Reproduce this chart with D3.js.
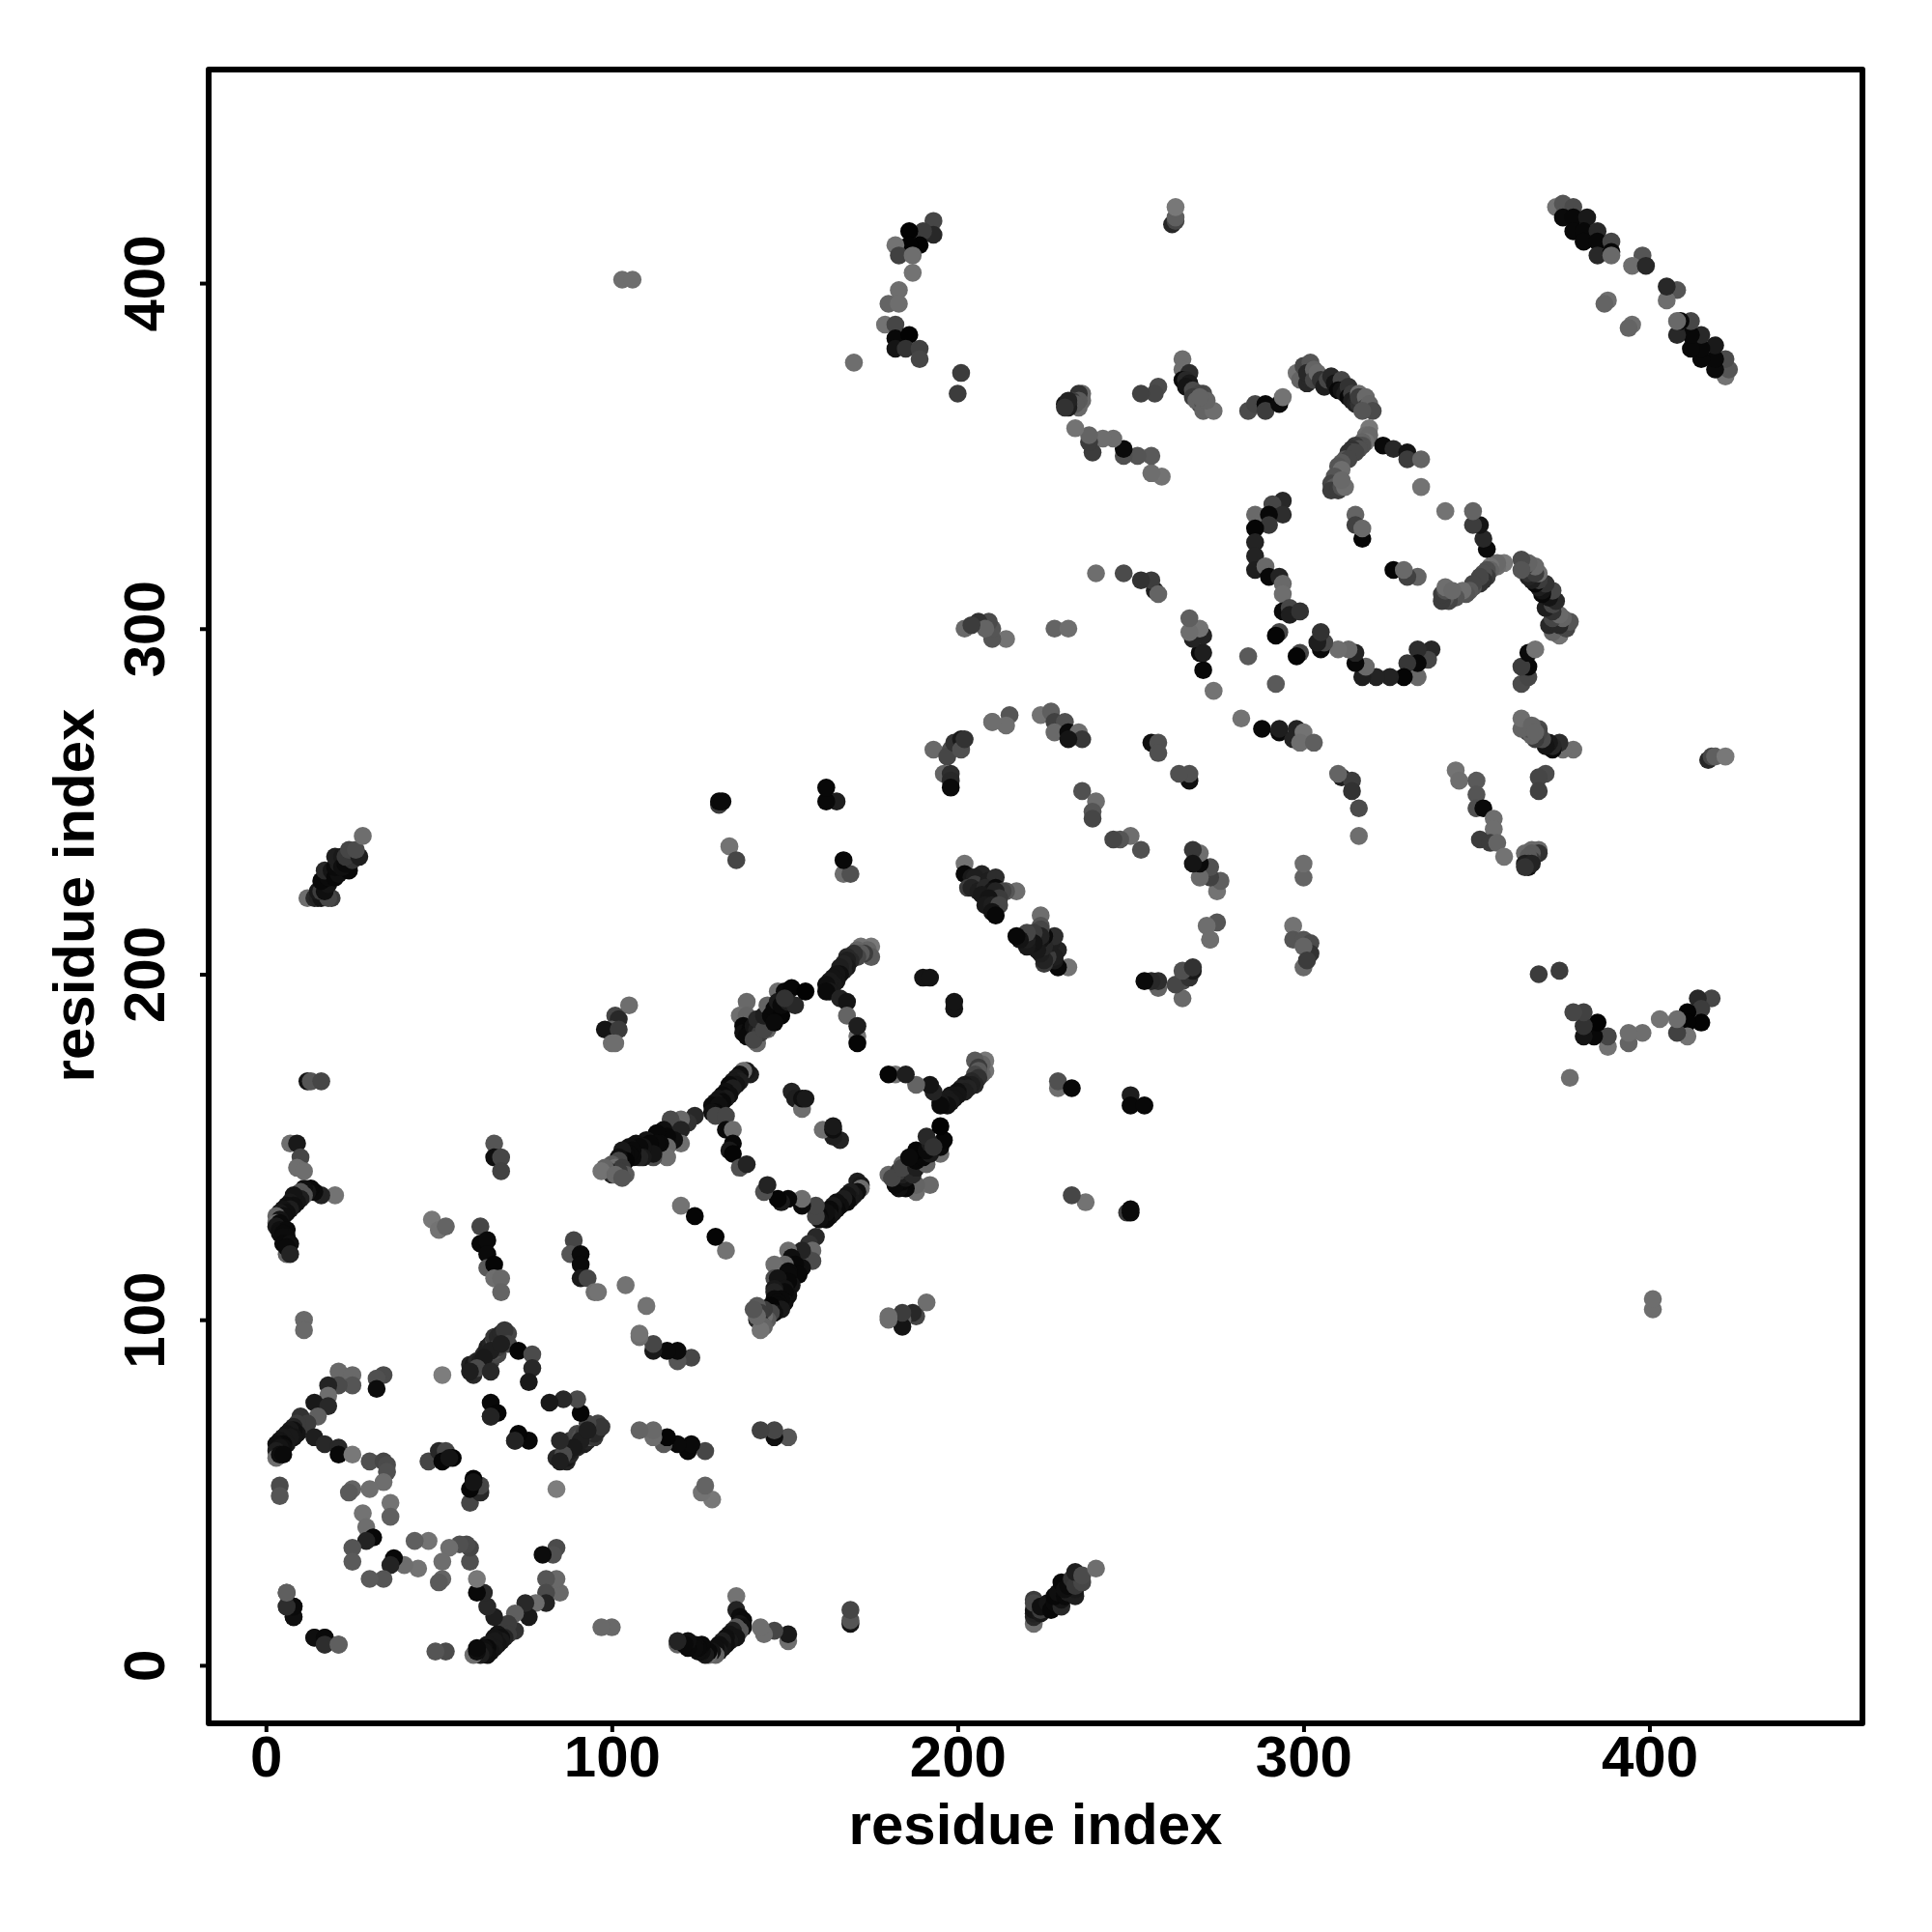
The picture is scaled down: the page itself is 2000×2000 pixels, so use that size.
<!DOCTYPE html>
<html><head><meta charset="utf-8"><style>html,body{margin:0;background:#fff}svg{display:block}</style>
<script src="https://cdn.jsdelivr.net/npm/d3@7"></script></head><body>
<svg id="c" width="2000" height="2000"></svg>
<script>
// Contacts as [residue i, residue j, grey level]. The map is symmetric: each is drawn at (i,j) and (j,i).
const arcA=[[20,136,115],[16,136,35],[14,137,12],[13,138,10],[12,137,20],[11,138,15],[11,136,85],[10,137,85],[9,136,85],[8,135,85],[10,135,30],[9,134,20],[8,136,20],[7,134,25],[8,133,15],[6,133,15],[7,132,30],[5,132,20],[6,131,15],[4,131,25],[5,130,15],[3,130,100],[4,129,20],[3,128,110],[4,128,10],[3,127,25],[4,126,15],[6,126,10],[4,125,15],[5,125,10],[6,124,12],[5,124,12],[5,122,10],[7,122,15],[6,119,100],[6,121,10],[7,119,35]];
const arcB=[[7,151,110],[9,151,25],[10,147,70],[9,144,110],[11,143,110],[12,169,20],[13,169,85],[16,169,70],[66,151,85],[66,147,15],[68,147,70],[68,143,65]];
const strandC=[[48,129,120],[50,126,115],[52,127,100],[62,127,70],[62,122,8],[64,123,10],[64,119,10],[64,115,90],[66,116,5],[66,112,110],[68,112,105],[68,108,100],[89,123,70],[88,119,85],[91,119,10],[91,116,10],[91,112,25],[93,112,70],[95,108,110],[96,108,115],[104,110,115],[11,100,105],[11,97,105]];
const helixA=[[21,85,105],[25,84,105],[25,81,85],[21,81,75],[18,81,35],[18,78,110],[34,84,75],[32,83,80],[32,80,12],[14,76,25],[18,75,40],[10,72,50],[15,72,95],[10,68,70],[12,70,60],[9,70,60],[8,69,35],[14,66,30],[9,67,20],[8,68,15],[7,68,25],[8,66,20],[6,67,20],[7,66,25],[5,66,25],[17,64,40],[21,63,40],[21,61,8],[25,61,120],[6,64,25],[4,65,20],[5,64,10],[3,64,15],[5,63,15],[4,63,20],[3,62,30],[3,60,110],[4,61,15],[5,61,10]];
const helixB=[[30,59,80],[34,59,70],[35,58,75],[35,56,80],[34,53,110],[30,51,110],[25,51,100],[24,50,90],[36,47,115],[36,43,95],[28,44,115],[29,40,110],[31,37,8],[29,36,35],[25,34,85],[25,30,90]];
const helixC=[[47,59,70],[50,62,40],[52,62,70],[54,60,4],[51,59,6],[53,60,20],[51,84,125],[4,52,75],[4,49,85],[6,21,75],[6,17,70],[8,17,5],[8,14,8],[8,14,15],[8,17,10],[6,17,45],[6,21,95]];
const helixD=[[60,84,40],[59,87,35],[60,86,35],[60,87,25],[62,87,100],[61,88,40],[62,88,30],[64,88,55],[65,88,60],[64,90,90],[63,90,40],[67,90,70],[66,91,80],[64,92,30],[65,93,35],[66,94,85],[68,94,55],[66,95,55],[67,95,40],[69,95,60],[68,96,40],[70,96,70],[69,97,55],[70,93,70],[67,92,60],[65,91,30],[63,89,25],[68,93,30],[61,86,75],[59,85,30],[65,85,40],[73,91,5],[77,90,75],[77,86,40],[76,82,25],[65,72,90],[65,76,8],[67,73,5],[65,72,35]];
const groupF=[[105,191,110],[101,188,70],[102,187,40],[100,184,100],[98,184,20],[102,184,60],[100,180,110],[101,180,110]];
const groupG=[[139,192,105],[137,188,110],[139,188,100],[138,185,8],[138,183,15],[140,184,8],[140,182,15],[139,182,10],[142,180,105],[141,185,20],[143,186,10],[142,184,30],[143,183,60],[141,181,70],[142,187,40],[145,184,100],[144,184,70],[144,188,30],[146,190,70],[145,191,100],[146,188,8],[147,190,8],[148,195,110],[148,192,25],[149,188,5],[147,186,10],[149,191,10],[150,195,10],[152,196,6],[151,192,30],[153,191,40],[150,193,50],[156,195,2]];
const groupH=[[175,208,120],[172,208,115],[174,207,100],[171,207,100],[175,205,90],[173,206,60],[172,206,90],[171,205,70],[170,206,50],[169,204,40],[168,205,40],[168,204,30],[168,202,25],[167,203,35],[167,201,35],[166,202,30],[166,200,15],[165,200,20],[165,198,20],[164,199,20],[164,197,25],[163,198,25],[162,197,15],[163,195,25],[162,195,10],[166,193,35],[168,192,20],[168,188,100],[171,182,115],[171,180,5],[171,185,30]];
const groupI=[[140,171,30],[139,172,25],[138,172,110],[137,171,15],[136,170,25],[137,169,30],[135,169,25],[136,168,20],[134,168,10],[135,167,30],[133,166,15],[134,165,15],[132,165,10],[133,164,25],[131,164,20],[132,163,10],[130,163,20],[129,162,10],[131,162,15],[130,160,10],[129,160,15],[130,159,70],[133,159,70],[133,155,10],[135,155,110],[135,151,8],[134,149,25],[135,148,5],[137,144,80],[139,145,35]];
const groupJ=[[124,159,40],[122,157,50],[120,158,105],[118,156,90],[117,158,75],[120,155,35],[115,155,15],[120,151,110],[118,152,15],[116,153,8],[113,154,8],[116,150,105],[116,147,110],[114,151,10],[110,152,20],[112,150,8],[113,151,10],[111,151,8],[112,147,75],[112,148,20],[107,151,15],[109,150,20],[108,150,10],[109,147,25],[108,147,35],[105,150,15],[106,149,10],[106,147,10],[105,148,10],[104,148,10],[103,149,25],[104,146,5],[102,147,15],[102,146,70],[100,145,90],[101,144,110],[103,144,60],[104,142,90],[102,143,60],[100,142,40],[99,143,40],[98,144,100],[97,143,115],[101,142,105],[103,141,85]];
const centres=[[152,166,35],[153,164,30],[155,161,110],[155,164,15],[156,164,25],[120,133,115],[124,130,5],[190,199,20],[192,199,20],[131,249,60],[131,250,10],[132,250,10],[134,237,115],[136,233,70],[103,401,110],[106,401,110],[274,282,115],[284,292,90],[293,299,70],[292,298,5]];
const groupK=[[196,258,100],[198,258,45],[198,256,40],[198,254,10],[193,265,105],[198,265,75],[197,263,70],[199,267,50],[201,268,25],[201,265,80],[202,268,50],[210,273,110],[215,275,85],[214,272,110],[224,275,115],[227,276,95],[228,273,65],[231,273,80],[228,270,105],[232,270,10],[235,270,110],[236,268,55],[232,268,20],[256,267,15],[258,267,80],[258,264,80]];
const groupL=[[271,288,8],[270,293,10],[271,293,30],[271,298,35],[268,297,35],[270,300,115],[267,299,110],[267,303,95],[236,253,80],[240,250,110],[239,247,85],[239,245,70],[228,300,100],[232,300,110]];
const groupM=[[202,232,115],[202,229,8],[207,229,35],[204,228,25],[205,228,30],[205,226,60],[203,225,60],[204,225,35],[206,224,30],[209,227,30],[211,228,45],[208,225,40],[211,225,10],[210,224,20],[207,223,25],[217,224,110],[214,224,85],[213,224,70],[211,224,35],[212,222,60],[209,222,20],[208,220,25],[210,220,30],[212,220,70],[210,218,20],[211,217,8]];
const groupN=[[214,297,115],[210,297,85],[210,300,85],[209,302,75],[206,302,50],[202,300,105],[208,300,100],[204,301,60],[167,229,110],[169,229,80],[167,233,8],[165,250,30],[162,250,8],[162,254,8],[210,273,110]];
const groupO=[[284,363,75],[286,365,70],[289,365,8],[289,363,60],[293,365,10],[294,367,115],[265,378,110],[265,375,110],[267,374,45],[265,372,10],[266,372,40],[267,371,25],[266,370,20],[268,369,75],[271,368,75],[270,368,70],[268,367,60],[270,365,60],[269,366,100],[271,365,80],[272,364,100],[271,363,100],[274,363,110],[272,366,100],[270,367,100],[262,417,40],[263,418,70],[263,419,95],[263,422,120]];
const groupP=[[193,418,70],[193,414,40],[190,415,60],[186,415,3],[189,411,3],[186,411,3],[182,411,115],[183,408,65],[187,408,110],[187,403,115],[183,398,110],[180,394,100],[183,394,110],[179,388,115],[182,388,70],[182,384,8],[186,385,3],[182,381,20],[185,381,50],[189,381,65],[189,378,70],[170,377,110],[201,374,60],[200,368,60]];
const groupQ=[[298,374,115],[299,372,100],[300,376,70],[301,371,40],[302,372,40],[302,377,85],[301,374,40],[303,375,100],[303,372,70],[304,374,105],[305,372,50],[306,370,30],[307,372,70],[308,373,40],[309,371,20],[311,372,70],[310,369,8],[311,369,20],[312,368,30],[313,370,50],[313,367,8],[314,368,60],[314,366,30],[316,368,110],[315,365,35],[316,365,50],[316,367,60],[318,367,105],[318,364,60],[319,365,100],[320,363,75],[317,363,85],[319,358,120],[318,356,110],[319,356,105],[318,354,115],[317,354,100],[317,353,80],[316,353,80],[315,353,60],[316,352,80],[314,352,50],[314,351,80],[313,351,50],[315,351,70],[312,349,85],[313,349,70],[311,348,90],[310,347,85],[311,346,110],[309,344,85],[310,342,85],[308,342,70],[309,341,90],[308,340,60],[310,340,60],[311,341,80],[312,341,110],[311,343,105],[323,353,10],[326,352,40],[330,351,20],[330,349,60],[334,349,100],[334,341,115],[315,333,100],[315,330,65],[317,326,5],[317,329,105]];
const groupR=[[294,337,40],[291,336,70],[294,333,45],[286,333,105],[290,333,8],[290,330,55],[286,329,5],[286,325,35],[286,321,35],[286,317,30],[289,318,105],[290,315,8],[293,315,35],[294,313,105],[294,310,110],[294,305,10],[296,306,70],[296,304,30],[299,305,50]];
const groupS=[[258,370,75],[257,368,70],[253,368,65],[259,344,115],[256,345,110],[256,350,90],[252,350,85],[248,350,80],[248,352,10],[245,355,110],[242,355,110],[239,351,60],[238,354,60],[238,356,100],[234,358,115],[235,364,105],[236,366,105],[236,368,105],[235,368,50],[235,366,90],[233,366,60],[234,365,90],[232,365,50],[232,364,30],[231,365,20],[232,366,35],[231,364,50],[257,311,30],[256,314,60],[253,314,50],[248,316,75],[240,316,110],[258,310,100]];
const groupT=[[12,222,110],[14,222,40],[15,222,35],[16,222,20],[19,222,60],[18,222,70],[15,224,25],[16,224,60],[17,224,15],[18,226,20],[16,227,8],[18,228,10],[17,230,40],[19,230,20],[20,228,8],[21,229,15],[20,231,10],[21,232,30],[20,234,30],[22,234,25],[24,230,8],[22,231,15],[23,232,10],[25,233,50],[23,234,55],[24,236,70],[27,234,30],[26,236,75],[28,240,110]];
const groupU=[[373,422,115],[375,423,85],[378,422,75],[375,419,10],[378,419,8],[382,419,25],[378,415,8],[381,415,8],[385,415,40],[381,412,8],[385,412,8],[389,412,70],[385,408,40],[389,409,8],[389,408,105],[398,408,85],[395,405,110],[399,405,40],[388,395,110],[387,394,100]];
const clusters=[arcA,arcB,strandC,helixA,helixB,helixC,helixD,groupF,groupG,groupH,groupI,groupJ,centres,groupK,groupL,groupM,groupN,groupO,groupP,groupQ,groupR,groupS,groupT,groupU];
const tickValues=[0,100,200,300,400];
const axisTitle="residue index";

const svg=d3.select("#c");
const x=d3.scaleLinear().domain([-16.56,461.6]).range([216,1928]);
const y=d3.scaleLinear().domain([-16.8,461.8]).range([1784,72]);
const font="'Liberation Sans',Arial,sans-serif";

const marks=clusters.flatMap(c=>c.flatMap(([i,j,g])=>[{a:i,b:j,g},{a:j,b:i,g}]));
svg.append("g").selectAll("circle").data(marks).join("circle")
  .attr("cx",d=>x(d.a)).attr("cy",d=>y(d.b)).attr("r",9.3)
  .attr("fill",d=>`rgb(${d.g},${d.g},${d.g})`);

svg.append("rect").attr("x",216).attr("y",72).attr("width",1712).attr("height",1712)
  .attr("fill","none").attr("stroke","#000").attr("stroke-width",6).attr("stroke-linejoin","round");

const ax=svg.append("g").attr("transform","translate(0,1784)")
  .call(d3.axisBottom(x).tickValues(tickValues).tickSize(9).tickPadding(0));
ax.select(".domain").remove();
ax.selectAll("line").attr("stroke","#000").attr("stroke-width",4);
ax.selectAll("text").attr("fill","#000").attr("dy",null).attr("y",55)
  .attr("font-family",font).attr("font-weight","bold").attr("font-size",60);

const ay=svg.append("g").attr("transform","translate(216,0)")
  .call(d3.axisLeft(y).tickValues(tickValues).tickSize(9).tickPadding(0));
ay.select(".domain").remove();
ay.selectAll("line").attr("stroke","#000").attr("stroke-width",4);
ay.selectAll("text").attr("fill","#000").attr("dy",null).attr("x",0).attr("y",0)
  .attr("text-anchor","middle").attr("transform","translate(-46,0) rotate(-90)")
  .attr("font-family",font).attr("font-weight","bold").attr("font-size",60);

svg.append("text").attr("x",1072).attr("y",1909).attr("text-anchor","middle")
  .attr("font-family",font).attr("font-weight","bold").attr("font-size",60).text(axisTitle);
svg.append("text").attr("transform","translate(97,927) rotate(-90)").attr("text-anchor","middle")
  .attr("font-family",font).attr("font-weight","bold").attr("font-size",60).text(axisTitle);
</script></body></html>
